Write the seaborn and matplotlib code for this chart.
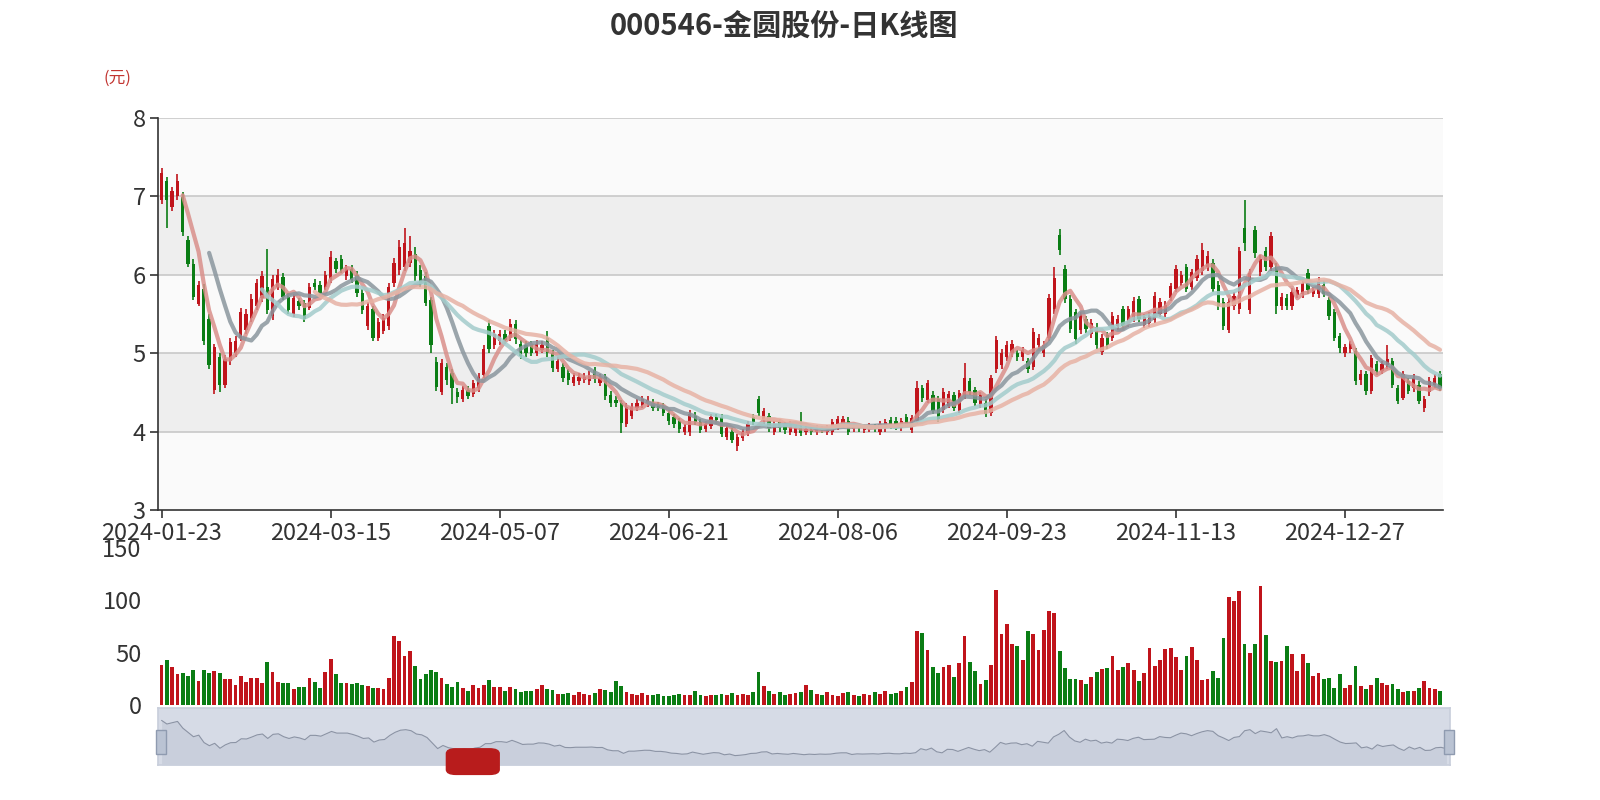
import numpy as np
import pandas as pd
import matplotlib
matplotlib.use("Agg")
import matplotlib.pyplot as plt
import seaborn as sns
from matplotlib.patches import FancyBboxPatch, Rectangle

tick_labels = ["2024-01-23", "2024-03-15", "2024-05-07", "2024-06-21",
               "2024-08-06", "2024-09-23", "2024-11-13", "2024-12-27"]
tick_step = 32

opens = [6.95,7.2,6.86,7.0,6.99,6.44,6.14,5.63,5.82,5.44,4.53,4.95,4.6,4.9,5.0,5.2,5.3,5.45,5.6,5.7,
5.85,5.47,5.85,5.97,5.72,5.5,5.66,5.64,5.58,5.9,5.87,5.85,5.95,6.17,6.2,5.98,6.07,6.0,5.77,5.35,
5.56,5.2,5.28,5.35,5.9,6.06,6.1,6.15,6.27,6.06,5.98,5.68,4.89,4.51,4.83,4.75,4.51,4.42,4.53,4.48,
4.55,4.72,5.35,5.1,5.15,5.24,5.2,5.37,5.12,5.1,5.12,5.0,5.04,5.2,5.0,4.8,4.83,4.75,4.62,4.64,
4.66,4.64,4.78,4.62,4.7,4.47,4.4,4.36,4.1,4.2,4.3,4.34,4.36,4.36,4.34,4.32,4.24,4.18,4.13,4.0,
3.99,4.2,4.12,4.03,4.07,4.18,4.19,3.93,4.0,3.82,3.92,3.98,4.18,4.41,4.15,4.2,4.0,4.12,4.08,4.0,
3.98,4.04,4.0,4.02,4.0,4.03,4.0,4.0,4.06,4.1,4.14,4.03,4.06,4.02,4.04,4.06,4.0,4.04,4.15,4.14,
4.05,4.19,4.02,4.14,4.55,4.4,4.47,4.41,4.28,4.33,4.47,4.27,4.45,4.64,4.53,4.35,4.37,4.24,4.8,4.85,
4.95,5.0,5.0,4.95,4.9,4.82,5.1,5.0,5.2,5.56,6.51,6.07,5.69,5.52,5.3,5.44,5.25,5.34,5.02,5.23,
5.2,5.35,5.56,5.38,5.45,5.69,5.36,5.38,5.42,5.5,5.5,5.7,5.82,5.9,6.1,5.85,5.96,6.05,6.1,6.15,
5.87,5.65,5.3,5.6,5.56,6.6,5.55,6.57,6.03,6.3,6.1,6.1,5.6,5.7,5.6,5.74,5.75,6.02,5.76,5.75,
5.87,5.68,5.52,5.22,5.0,5.05,5.03,4.66,4.73,4.52,4.86,4.77,4.85,4.9,4.56,4.43,4.65,4.55,4.6,4.3,
4.5,4.6,4.73]
closes = [7.3,6.95,7.07,7.2,6.55,6.14,5.72,5.87,5.15,4.85,5.08,4.6,4.93,5.14,5.16,5.52,5.5,5.69,5.9,5.98,
5.55,5.95,6.0,5.72,5.55,5.7,5.6,5.43,5.85,5.85,5.77,6.0,6.23,6.07,6.07,6.07,5.94,5.77,5.55,5.6,
5.2,5.4,5.45,5.85,6.15,6.35,6.4,6.3,5.98,5.9,5.64,5.1,4.57,4.87,4.66,4.56,4.44,4.53,4.46,4.62,
4.7,5.05,5.05,5.24,5.24,5.17,5.37,5.18,4.97,5.0,5.0,5.12,5.1,5.0,4.81,4.9,4.68,4.66,4.7,4.7,
4.7,4.72,4.67,4.68,4.45,4.36,4.36,4.11,4.32,4.32,4.36,4.41,4.4,4.3,4.3,4.24,4.13,4.1,4.03,4.06,
4.23,4.12,4.02,4.1,4.18,4.15,3.97,4.04,3.89,3.93,3.99,4.1,4.12,4.24,4.26,4.05,4.1,4.05,4.02,4.1,
4.04,3.98,4.03,4.0,4.04,4.02,4.04,4.12,4.16,4.16,4.0,4.06,4.04,4.06,4.07,4.04,4.1,4.12,4.07,4.06,
4.13,4.1,4.17,4.56,4.43,4.62,4.26,4.16,4.5,4.48,4.3,4.49,4.68,4.51,4.37,4.47,4.22,4.68,5.17,5.0,
5.1,5.12,4.95,5.04,4.8,5.27,5.19,5.1,5.7,5.96,6.32,5.69,5.31,5.18,5.48,5.31,5.38,5.1,5.2,5.1,
5.48,5.44,5.35,5.56,5.67,5.44,5.46,5.48,5.73,5.65,5.62,5.86,6.07,6.0,5.82,6.03,6.2,6.31,6.24,5.82,
5.6,5.35,5.65,5.73,6.3,6.4,6.02,6.28,6.2,6.1,6.5,5.6,5.72,5.6,5.78,5.8,5.9,5.8,5.8,5.92,
5.76,5.47,5.2,5.06,5.08,5.12,4.64,4.73,4.52,4.94,4.77,4.86,4.92,4.6,4.39,4.73,4.52,4.69,4.39,4.41,
4.65,4.69,4.56]
highs = [7.36,7.25,7.12,7.28,7.05,6.5,6.2,5.92,5.88,5.5,5.12,5.0,4.98,5.2,5.22,5.58,5.56,5.75,5.95,6.05,
6.33,6.0,6.08,6.02,5.77,5.75,5.7,5.68,5.9,5.95,5.92,6.05,6.3,6.22,6.25,6.12,6.12,6.05,5.82,5.65,
5.6,5.45,5.5,5.9,6.22,6.45,6.6,6.5,6.35,6.12,6.03,5.72,4.95,4.92,4.88,4.8,4.56,4.58,4.58,4.66,
4.75,5.1,5.42,5.3,5.3,5.3,5.43,5.42,5.17,5.15,5.16,5.17,5.15,5.28,5.04,4.95,4.88,4.8,4.75,4.75,
4.75,4.77,4.83,4.73,4.74,4.52,4.45,4.4,4.37,4.37,4.41,4.46,4.45,4.41,4.38,4.36,4.28,4.22,4.17,4.1,
4.27,4.25,4.16,4.14,4.22,4.22,4.23,4.08,4.04,3.97,4.03,4.14,4.22,4.45,4.3,4.24,4.14,4.16,4.12,4.14,
4.08,4.25,4.07,4.06,4.08,4.07,4.08,4.16,4.2,4.2,4.18,4.1,4.1,4.1,4.11,4.1,4.14,4.16,4.19,4.18,
4.17,4.23,4.21,4.65,4.6,4.66,4.52,4.45,4.55,4.52,4.5,4.53,4.88,4.68,4.57,4.51,4.41,4.72,5.22,5.05,
5.15,5.17,5.04,5.08,4.94,5.32,5.24,5.15,5.75,6.1,6.58,6.12,5.74,5.56,5.53,5.48,5.43,5.38,5.25,5.27,
5.53,5.49,5.6,5.6,5.72,5.73,5.5,5.52,5.78,5.7,5.67,5.9,6.12,6.05,6.14,6.08,6.25,6.4,6.3,6.2,
5.92,5.7,5.7,5.78,6.35,6.95,6.08,6.62,6.25,6.35,6.55,6.15,5.77,5.75,5.83,5.85,5.95,6.07,5.85,5.97,
5.92,5.72,5.56,5.26,5.12,5.16,5.07,4.78,4.77,4.98,4.9,4.9,5.1,4.94,4.6,4.77,4.69,4.73,4.64,4.45,
4.7,4.74,4.77]
lows = [6.9,6.6,6.82,6.95,6.5,6.1,5.68,5.6,5.1,4.8,4.48,4.5,4.55,4.85,4.95,5.15,5.25,5.4,5.55,5.65,
5.5,5.42,5.8,5.68,5.5,5.46,5.55,5.4,5.55,5.8,5.72,5.8,5.9,6.02,6.02,5.94,5.9,5.72,5.5,5.3,
5.15,5.16,5.24,5.3,5.85,6.0,6.05,6.1,5.92,5.85,5.6,5.0,4.52,4.47,4.6,4.35,4.36,4.38,4.42,4.44,
4.5,4.68,5.0,5.05,5.1,5.12,5.15,5.12,4.92,4.95,4.96,4.96,5.0,4.95,4.76,4.76,4.63,4.6,4.58,4.6,
4.62,4.6,4.62,4.58,4.4,4.31,4.31,3.98,4.06,4.16,4.26,4.3,4.32,4.26,4.26,4.2,4.08,4.05,3.98,3.96,
3.95,4.08,3.98,3.99,4.03,4.1,3.93,3.89,3.85,3.75,3.88,3.94,4.08,4.2,4.1,4.0,3.96,4.0,3.97,3.96,
3.94,3.94,3.96,3.96,3.96,3.98,3.96,3.96,4.02,4.06,3.96,3.99,4.0,3.98,4.0,4.0,3.96,4.0,4.03,4.02,
4.01,4.06,3.98,4.1,4.38,4.36,4.22,4.12,4.24,4.3,4.26,4.24,4.42,4.47,4.33,4.3,4.18,4.2,4.75,4.8,
4.9,4.95,4.9,4.9,4.75,4.78,5.05,4.95,5.15,5.5,6.25,5.64,5.26,5.12,5.25,5.26,5.2,5.05,4.98,5.05,
5.15,5.3,5.3,5.34,5.4,5.4,5.32,5.34,5.38,5.46,5.46,5.66,5.78,5.86,5.78,5.8,5.92,6.0,6.05,5.78,
5.55,5.3,5.26,5.55,5.5,6.3,5.5,6.22,5.98,6.05,6.05,5.5,5.55,5.55,5.55,5.7,5.7,5.75,5.72,5.7,
5.72,5.42,5.15,5.0,4.95,5.0,4.6,4.6,4.47,4.48,4.72,4.73,4.8,4.56,4.35,4.4,4.48,4.5,4.35,4.25,
4.45,4.55,4.52]
volumes = [38,43,36,29,30,28,33,23,33,30,32,30,25,25,19,28,22,26,26,21,41,31,22,21,21,15,17,17,26,22,
16,31,44,29,21,21,20,21,19,18,16,16,15,26,66,61,47,51,37,25,29,33,31,26,20,17,22,16,13,19,
16,19,24,17,17,13,17,15,12,13,13,15,19,15,14,10,10,11,9,12,10,9,11,15,14,12,23,18,12,10,
9,11,9,9,10,8,8,9,10,9,9,13,9,8,9,9,10,9,11,9,10,9,12,31,18,13,10,12,9,10,
11,12,19,14,10,9,12,9,8,11,12,9,8,10,9,12,10,13,10,11,13,17,22,
71,69,52,36,30,36,38,27,40,66,41,32,20,24,38,110,68,77,58,56,43,71,68,52,72,90,88,51,35,25,
25,24,20,27,31,34,35,47,33,36,40,33,23,30,54,37,43,53,54,46,33,47,55,43,24,25,32,26,64,103,
99,109,58,50,58,114,67,42,41,42,56,49,32,49,40,28,30,25,26,16,29,16,19,37,18,15,19,26,21,19,
20,15,12,13,13,16,23,16,15,13]
ma_windows = [5, 10, 20, 30]
ma_colors = ["#d98f8a", "#8a969e", "#a3cccc", "#e7b2a4"]

UP, DOWN = "#c0141b", "#0a7d14"

n = len(closes)
df = pd.DataFrame({"i": np.arange(n), "open": opens, "close": closes,
                   "high": highs, "low": lows, "vol": volumes[:n]})
df["up"] = df["close"] >= df["open"]
for w in ma_windows:
    df[f"MA{w}"] = df["close"].rolling(w).mean()

sns.set_theme(style="white")
plt.rcParams["font.family"] = ["Noto Sans CJK SC", "DejaVu Sans"]

fig = plt.figure(figsize=(16, 8), dpi=100)
ax = fig.add_axes([0.099, 0.3625, 0.803, 0.49])
axv = fig.add_axes([0.099, 0.119, 0.803, 0.196])
axs = fig.add_axes([0.099, 0.044, 0.807, 0.071])

xmin, xmax = -0.6, n - 0.4
for lo_, hi_, col in [(3, 4, "#fafafa"), (4, 5, "#eeeeee"), (5, 6, "#fafafa"),
                      (6, 7, "#eeeeee"), (7, 8, "#fafafa")]:
    ax.axhspan(lo_, hi_, color=col, zorder=0, lw=0)
for y in [4, 5, 6, 7, 8]:
    ax.axhline(y, color="#c8c8c8", lw=1.2, zorder=1)

colors = np.where(df["up"], UP, DOWN)
ax.vlines(df["i"], df["low"], df["high"], colors=colors, lw=1.2, zorder=3)
body_bottom = np.minimum(df["open"], df["close"])
body_h = np.maximum(np.abs(df["close"] - df["open"]), 0.015)
ax.bar(df["i"], body_h, bottom=body_bottom, width=0.62, color=colors, lw=0, zorder=4)

for w, c in zip(ma_windows, ma_colors):
    sns.lineplot(x=df["i"], y=df[f"MA{w}"], ax=ax, color=c, lw=3, alpha=0.85, zorder=5)

ax.set_xlim(xmin, xmax)
ax.set_ylim(3, 8)
ax.set_yticks([3, 4, 5, 6, 7, 8])
ticks = [k * tick_step for k in range(len(tick_labels))]
ax.set_xticks(ticks)
ax.set_xticklabels(tick_labels)
ax.set_xlabel(""); ax.set_ylabel("")
for s in ["top", "right"]:
    ax.spines[s].set_visible(False)
for s in ["left", "bottom"]:
    ax.spines[s].set_color("#333333"); ax.spines[s].set_linewidth(1.2)
ax.tick_params(axis="both", colors="#333333", labelsize=17, length=6, width=1.2,
               direction="out", left=True, bottom=True, pad=3)
ax.text(-0.032, 1.1, "(元)", transform=ax.transAxes, color="#c23531", fontsize=12,
        ha="center", va="center")

sns.barplot(x=df["i"], y=df["vol"], hue=df["up"], palette={True: UP, False: DOWN},
            ax=axv, native_scale=True, legend=False, width=0.72, saturation=1, lw=0)
axv.set_xlim(xmin, xmax)
axv.set_ylim(0, 150)
axv.set_yticks([0, 50, 100, 150])
axv.set_xticks([])
axv.set_xlabel(""); axv.set_ylabel("")
for s in ["top", "right", "left", "bottom"]:
    axv.spines[s].set_visible(False)
axv.tick_params(axis="y", colors="#333333", labelsize=17, length=0, pad=12)

axs.set_xlim(xmin, xmax)
axs.set_ylim(3, 8.5)
axs.axvspan(xmin, xmax, color="#d6dbe6", lw=0)
axs.fill_between(df["i"], 3, df["close"], color="#c9cfdc", lw=0)
axs.plot(df["i"], df["close"], color="#8b93a4", lw=0.8)
for s in axs.spines.values():
    s.set_color("#c9cfdc")
axs.set_xticks([]); axs.set_yticks([])
fig.patches.append(FancyBboxPatch((0.281, 0.034), 0.029, 0.028, boxstyle="round,pad=0.002,rounding_size=0.006",
                                  transform=fig.transFigure, color="#b81c1c", zorder=10))
for xh in [0.0975, 0.9025]:
    fig.patches.append(Rectangle((xh, 0.058), 0.006, 0.03, transform=fig.transFigure,
                                 facecolor="#bac3d3", edgecolor="#8f9bb0", lw=1, zorder=10))

fig.suptitle("000546-金圆股份-日K线图", x=0.49, y=0.985, fontsize=21, fontweight="bold", color="#333333")
fig.savefig("out.png", dpi=100, facecolor="white")
